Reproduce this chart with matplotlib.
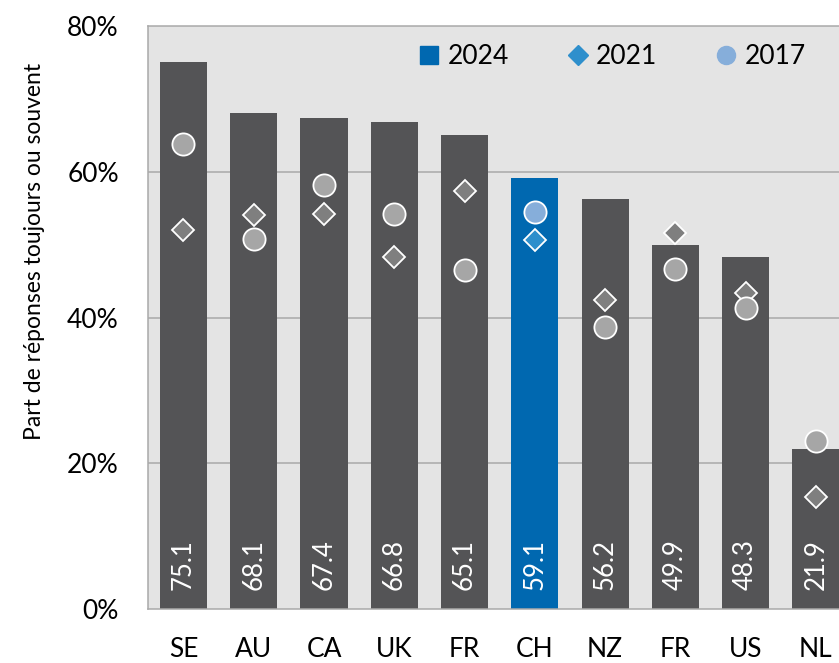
import matplotlib
matplotlib.use('Agg')
import matplotlib.pyplot as plt
from matplotlib.lines import Line2D
import numpy as np

plt.rcParams['font.family'] = ['Lato', 'DejaVu Sans']

countries = ['SE', 'AU', 'CA', 'UK', 'FR', 'CH', 'NZ', 'FR', 'US', 'NL']
vals_2024 = [75.1, 68.1, 67.4, 66.8, 65.1, 59.1, 56.2, 49.9, 48.3, 21.9]
vals_2021 = [52.0, 54.1, 54.2, 48.3, 57.4, 50.6, 42.4, 51.6, 43.3, 15.4]
vals_2017 = [63.8, 50.8, 58.2, 54.2, 46.5, 54.5, 38.7, 46.6, 41.3, 23.0]
highlight = 'CH'

BG = '#E4E4E4'
BAR = '#545456'
BLUE = '#0068B0'
DIAM_GREY = '#7F7F7F'
CIRC_GREY = '#A6A6A6'
DIAM_BLUE = '#2E8FCC'
CIRC_BLUE = '#86AEDA'
GRID = '#A9A9A9'

W, H = 839, 663
fig = plt.figure(figsize=(W / 100, H / 100), dpi=100)
ax = fig.add_axes([148 / W, 54 / H, 703 / W, 583 / H])
ax.set_facecolor(BG)

x = np.arange(len(countries))
bar_cols = [BLUE if c == highlight else BAR for c in countries]
ax.bar(x, vals_2024, width=0.67, color=bar_cols, zorder=2)

for i, c in enumerate(countries):
    hl = c == highlight
    ax.plot(x[i], vals_2021[i], marker='D', ms=11, linestyle='none',
            mfc=DIAM_BLUE if hl else DIAM_GREY, mec='white', mew=1.3, zorder=3)
    ax.plot(x[i], vals_2017[i], marker='o', ms=16, linestyle='none',
            mfc=CIRC_BLUE if hl else CIRC_GREY, mec='white', mew=1.3, zorder=4)
    ax.text(x[i], 2.6, f'{vals_2024[i]:.1f}', rotation=90, ha='center', va='bottom',
            color='white', fontsize=18.5, zorder=5)

ax.set_xlim(-0.505, 9.5)
ax.set_ylim(0, 80)
ax.set_yticks([0, 20, 40, 60, 80])
ax.set_yticklabels([f'{v}%' for v in [0, 20, 40, 60, 80]])
ax.set_xticks(x)
ax.set_xticklabels(countries)
ax.tick_params(axis='both', length=0, labelsize=19)
ax.tick_params(axis='y', pad=21)
ax.tick_params(axis='x', pad=20)

for v in [20, 40, 60]:
    ax.axhline(v, color=GRID, lw=1.1, zorder=1)
for side in ['left', 'bottom', 'top']:
    ax.spines[side].set_color(GRID)
    ax.spines[side].set_linewidth(1.1)
ax.spines['right'].set_visible(False)

fig.text(35 / W, 1 - 251 / H, 'Part de réponses toujours ou souvent',
         rotation=90, ha='center', va='center', fontsize=16.5)

handles = [
    Line2D([], [], marker='s', linestyle='none', ms=13, mfc=BLUE, mec=BLUE),
    Line2D([], [], marker='D', linestyle='none', ms=10.5, mfc=DIAM_BLUE, mec=DIAM_BLUE),
    Line2D([], [], marker='o', linestyle='none', ms=13, mfc=CIRC_BLUE, mec=CIRC_BLUE),
]
fig.legend(handles, ['2024', '2021', '2017'], loc='center',
           bbox_to_anchor=(612 / W, 1 - 57 / H), ncol=3, frameon=False,
           fontsize=19, handlelength=0.8, handletextpad=0.3, columnspacing=2.2)

fig.savefig('out.png', dpi=100)
